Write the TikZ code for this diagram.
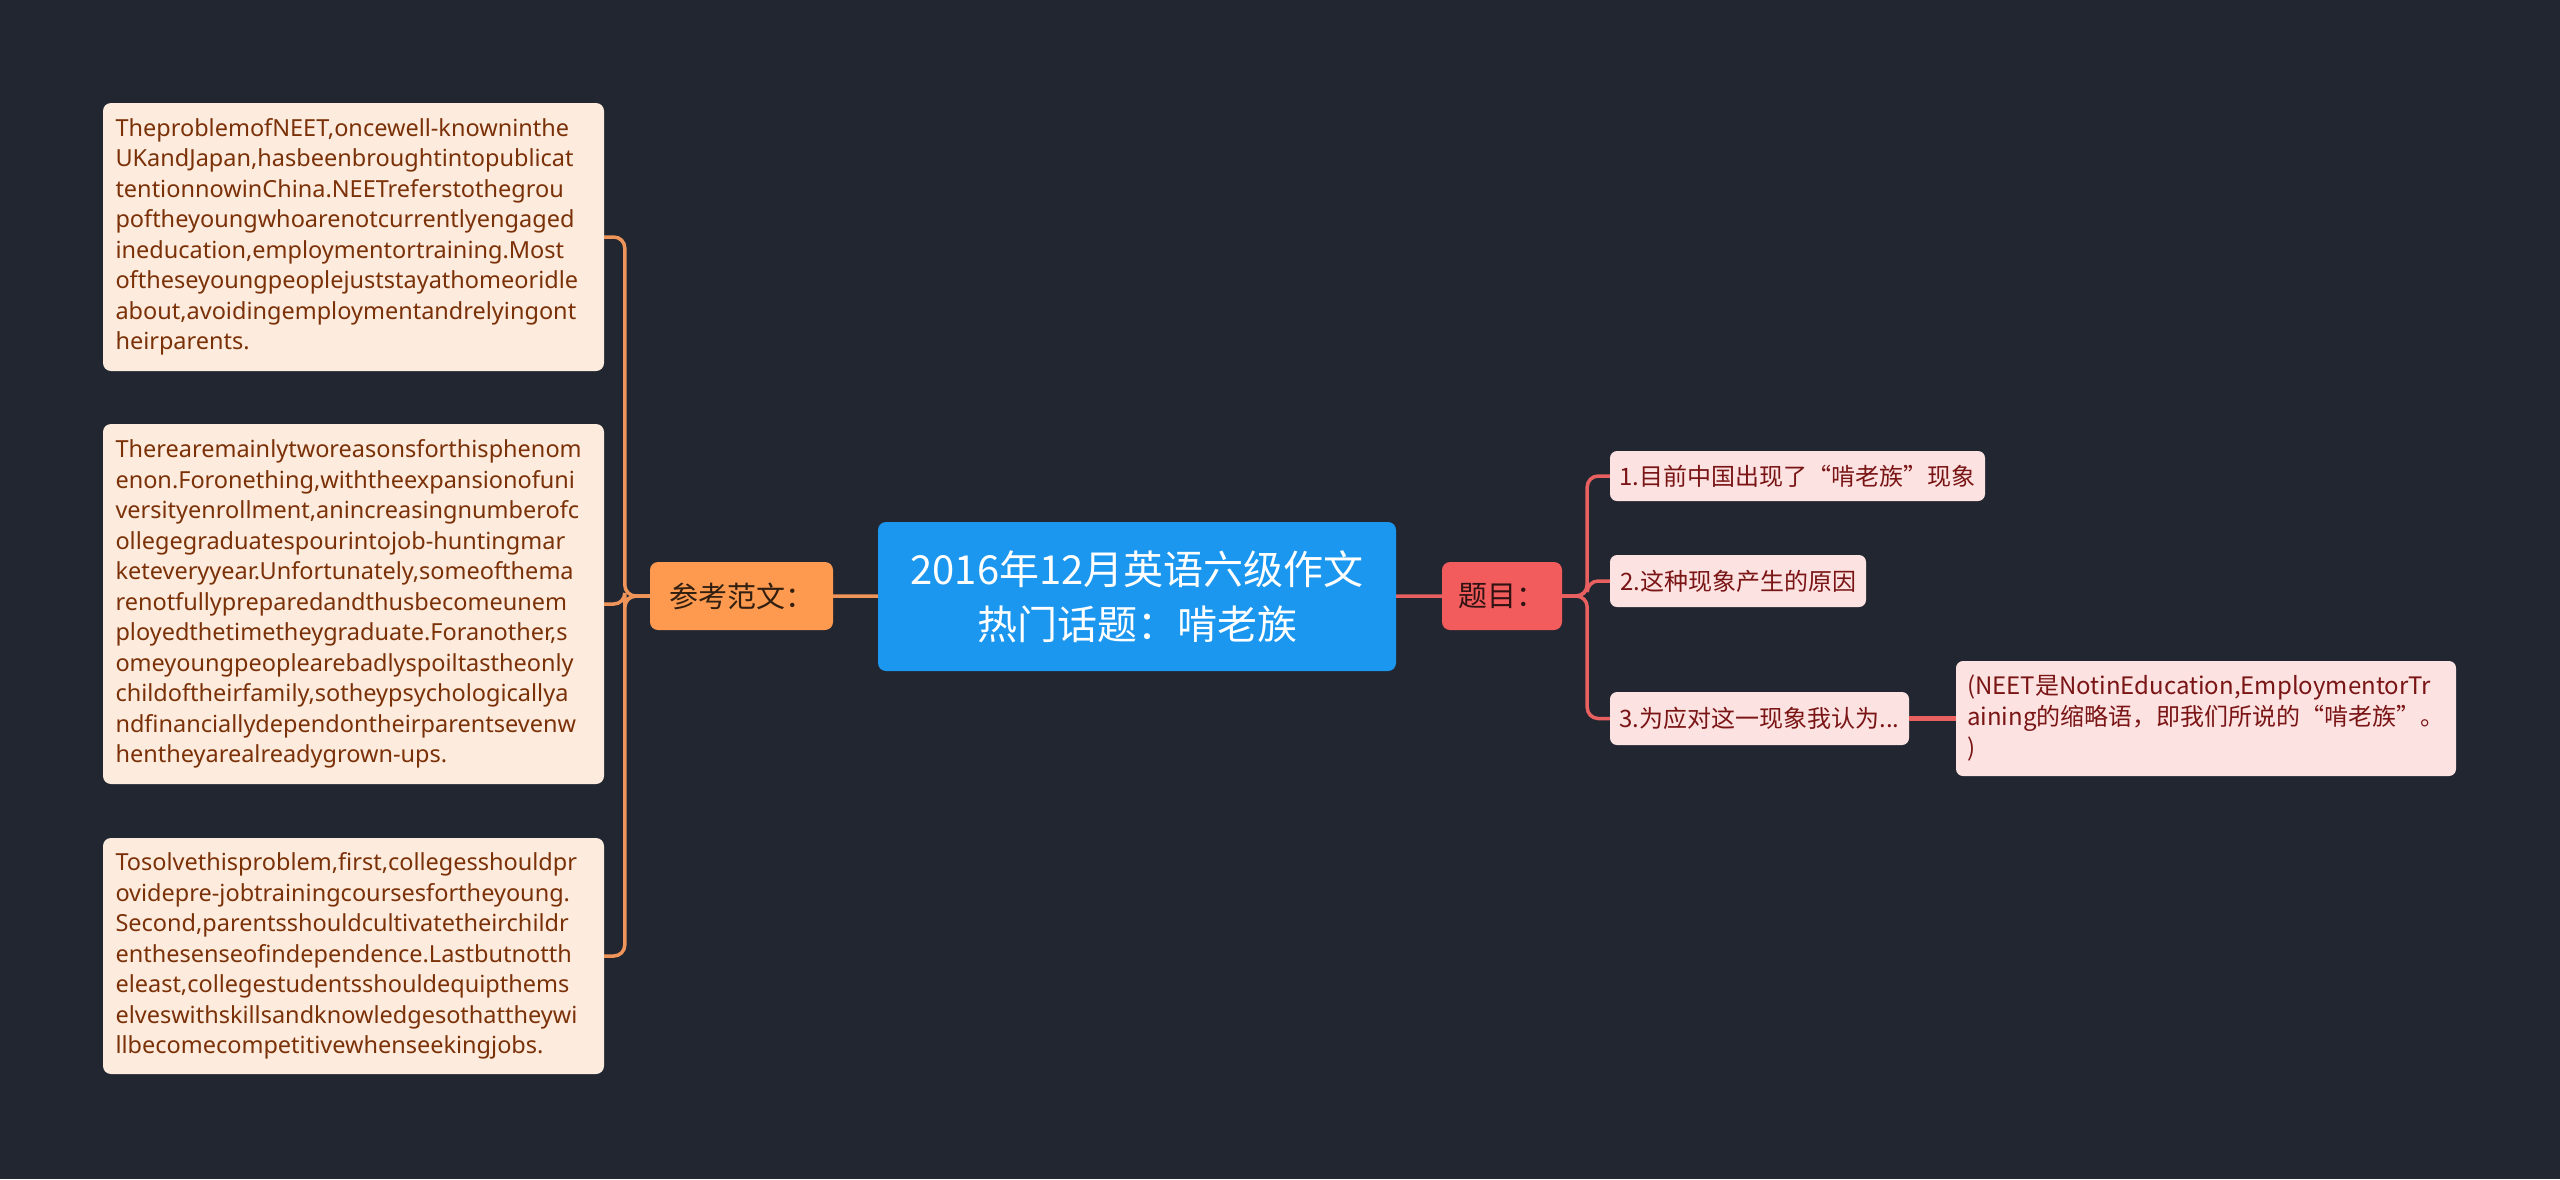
\documentclass[tikz,border=0pt]{standalone}
\usepackage{fontspec}
\setmainfont{Noto Sans CJK SC}
\newfontfamily\latinfont{Noto Sans}
\usepackage{tikz}
\usetikzlibrary{
  arrows.meta,
  calc,
  positioning
}

\definecolor{bgdark}{HTML}{222631}
\definecolor{rootblue}{HTML}{1B97F0}
\definecolor{fwfill}{HTML}{FD9A50}
\definecolor{fwline}{HTML}{F0955A}
\definecolor{essayfill}{HTML}{FDEBDD}
\definecolor{essaytext}{HTML}{7B3108}
\definecolor{tmfill}{HTML}{F25C5C}
\definecolor{tmline}{HTML}{E8605F}
\definecolor{itemfill}{HTML}{FDE2E2}
\definecolor{itemtext}{HTML}{7A1515}

\begin{document}
\begin{tikzpicture}[x=1pt,y=-1pt,
  rootbox/.style={fill=rootblue,rounded corners=8pt,text=white,align=center,
    minimum width=518pt,minimum height=149pt,inner sep=0pt,
    font=\fontsize{40}{55}\selectfont},
  branchbox/.style={rounded corners=8pt,minimum height=68pt,inner sep=0pt,
    font=\fontsize{29}{34}\selectfont},
  essaybox/.style={fill=essayfill,text=essaytext,rounded corners=8pt,
    text width=476pt,align=left,inner xsep=12.5pt,inner ysep=0pt,
    minimum width=501pt,font=\latinfont\fontsize{23.5}{30.5}\selectfont},
  itembox/.style={fill=itemfill,text=itemtext,rounded corners=7pt,
    inner sep=0pt,font=\fontsize{24}{31}\selectfont},
  lcon/.style={draw=fwline,line width=3.5pt,rounded corners=11pt},
  rcon/.style={draw=tmline,line width=3.5pt,rounded corners=11pt}]

  \useasboundingbox (0,0) rectangle (2560,1179);
  \fill[bgdark] (0,0) rectangle (2560,1179);

  % centre and the two branches
  \node[rootbox] (root) at (1137,596.5) {2016年12月英语六级作文\\热门话题：啃老族};
  \node[branchbox,fill=fwfill,text=black!80!fwfill,minimum width=183pt] (fanwen) at (741.5,596) {参考范文：};
  \node[branchbox,fill=tmfill,text=black!80!tmfill,minimum width=120pt] (timu) at (1502,596) {题目：};

  % sample essay paragraphs
  \node[essaybox,minimum height=268pt] (para1) at (353.5,237) {TheproblemofNEET,oncewell-knowninthe\\UKandJapan,hasbeenbroughtintopublicat\\tentionnowinChina.NEETreferstothegrou\\poftheyoungwhoarenotcurrentlyengaged\\ineducation,employmentortraining.Most\\oftheseyoungpeoplejuststayathomeoridle\\about,avoidingemploymentandrelyingont\\heirparents.};
  \node[essaybox,minimum height=360pt] (para2) at (353.5,604) {Therearemainlytworeasonsforthisphenom\\enon.Foronething,withtheexpansionofuni\\versityenrollment,anincreasingnumberofc\\ollegegraduatespourintojob-huntingmar\\keteveryyear.Unfortunately,someofthema\\renotfullypreparedandthusbecomeunem\\ployedthetimetheygraduate.Foranother,s\\omeyoungpeoplearebadlyspoiltastheonly\\childoftheirfamily,sotheypsychologicallya\\ndfinanciallydependontheirparentsevenw\\hentheyarealreadygrown-ups.};
  \node[essaybox,minimum height=236pt] (para3) at (353.5,956) {Tosolvethisproblem,first,collegesshouldpr\\ovidepre-jobtrainingcoursesfortheyoung.\\Second,parentsshouldcultivatetheirchildr\\enthesenseofindependence.Lastbutnotth\\eleast,collegestudentsshouldequipthems\\elveswithskillsandknowledgesothattheywi\\llbecomecompetitivewhenseekingjobs.};

  % topic items
  \node[itembox,minimum width=375pt,minimum height=50pt] (item1) at (1797.5,476) {1.目前中国出现了“啃老族”现象};
  \node[itembox,minimum width=256pt,minimum height=52pt] (item2) at (1738,581) {2.这种现象产生的原因};
  \node[itembox,minimum width=299pt,minimum height=53pt] (item3) at (1759.5,718.5) {3.为应对这一现象我认为...};
  \node[itembox,text width=478pt,align=left,inner xsep=11pt,minimum width=500pt,minimum height=115pt] (neet) at (2206,718.5) {(NEET是NotinEducation,EmploymentorTr\\aining的缩略语，即我们所说的“啃老族”。\\)};

  \draw[fwline,line width=3.5pt] (root) -- (fanwen);
  \draw[tmline,line width=3.5pt] (root) -- (timu);

  \draw[lcon] (fanwen.west) -- ++(-25,0) |- (para1.east);
  \draw[lcon] (fanwen.west) -- ++(-25,0) |- (para2.east);
  \draw[lcon] (fanwen.west) -- ++(-25,0) |- (para3.east);

  \draw[rcon] (timu.east) -- ++(25,0) |- (item1.west);
  \draw[rcon] (timu.east) -- ++(25,0) |- (item2.west);
  \draw[rcon] (timu.east) -- ++(25,0) |- (item3.west);
  \draw[tmline,line width=4.5pt] (item3) -- (neet);
\end{tikzpicture}
\end{document}
